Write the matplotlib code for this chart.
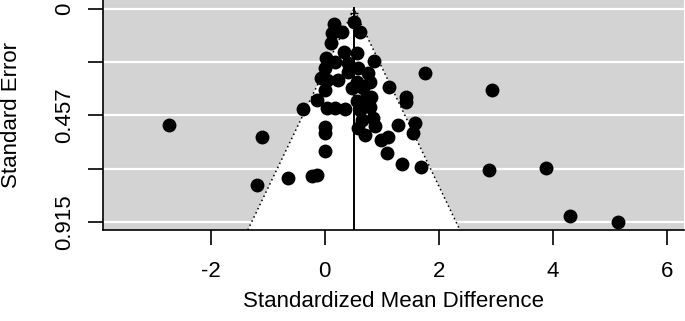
import numpy as np
import matplotlib.pyplot as plt

plt.rcParams['font.family'] = ['Liberation Sans', 'DejaVu Sans']

# effect sizes (standardized mean difference) and their standard errors
smd = [0.158, 0.509, 0.123, 0.298, 0.614, 0.105, 0.333, 0.561, 0.860, 0.018,
       0.175, 0.404, 0.000, 0.035, 0.228, 0.404, 0.579, 0.754, 0.789, 0.561,
       1.754, 1.123, 1.421, 1.421, 0.000, -0.140, -0.386, 0.035, 0.175, 0.351,
       0.561, 0.702, 0.807, 0.614, 0.789, 0.649, 0.842, 0.877, 0.579, 0.702,
       1.281, 1.579, 1.544, 0.982, 1.105, 1.088, 0.000, 0.000, 0.000, 1.351,
       1.684, -0.649, -0.228, -0.140, -1.193, -1.105, -2.737, 2.930, 2.877, 3.877,
       4.298, 5.140, 0.474, 0.667, -0.070]
sei = [0.064, 0.056, 0.103, 0.099, 0.099, 0.146, 0.185, 0.189, 0.223, 0.211,
       0.228, 0.232, 0.253, 0.305, 0.305, 0.271, 0.253, 0.275, 0.314, 0.314,
       0.275, 0.335, 0.378, 0.400, 0.348, 0.391, 0.430, 0.425, 0.425, 0.430,
       0.395, 0.391, 0.378, 0.434, 0.421, 0.477, 0.468, 0.503, 0.511, 0.541,
       0.498, 0.490, 0.533, 0.563, 0.550, 0.619, 0.507, 0.533, 0.610, 0.666,
       0.679, 0.726, 0.717, 0.713, 0.756, 0.550, 0.498, 0.348, 0.692, 0.683,
       0.889, 0.915, 0.339, 0.339, 0.296]

est = 0.51          # pooled estimate
se_max = 0.949      # funnel depth
y_ticks = [0, 0.229, 0.457, 0.686, 0.915]
y_labels = ['0', '', '0.457', '', '0.915']
x_ticks = [-2, 0, 2, 4, 6]

fig = plt.figure(figsize=(6.85, 3.21), dpi=100)
ax = fig.add_axes([103 / 685, 1 - 230 / 321, 581 / 685, 230 / 321])
ax.set_facecolor('#d3d3d3')

for y in y_ticks:
    ax.axhline(y, color='white', lw=1.6, zorder=1)

lo, hi = est - 1.96 * se_max, est + 1.96 * se_max
ax.fill([lo, est, hi], [se_max, 0, se_max], color='white', lw=0, zorder=2)
ax.plot([lo, est, hi], [se_max, 0, se_max], color='black', ls=(0, (1, 2)),
        lw=1.1, zorder=3)
ax.plot([est, est], [se_max, -0.003], color='black', lw=1.4, zorder=3)
ax.plot([est], [0.016], marker='+', color='black', ms=6, mew=1.0, zorder=5)

ax.scatter(smd, sei, s=100, color='black', lw=0, zorder=4)

ax.set_xlim(-3.89, 6.30)
ax.set_ylim(se_max, -0.039)

ax.set_yticks(y_ticks)
ax.set_yticklabels(y_labels, rotation=90, va='center')
ax.set_xticks(x_ticks)
ax.set_xticklabels([str(v) for v in x_ticks])
ax.tick_params(axis='both', direction='out', length=11, width=1.2, labelsize=16)
ax.tick_params(axis='x', pad=11)
ax.tick_params(axis='y', pad=9)

for side in ['top', 'right']:
    ax.spines[side].set_visible(False)
for side in ['left', 'bottom']:
    ax.spines[side].set_linewidth(1.2)

ax.set_xlabel('Standardized Mean Difference', fontsize=16)
ax.xaxis.set_label_coords(0.5, -0.31)
ax.xaxis.label.set_va('center')
ax.set_ylabel('Standard Error', fontsize=16)
ax.yaxis.set_label_coords(-0.157, 0.5)
ax.yaxis.label.set_va('center')

fig.savefig('out.png', dpi=100)
